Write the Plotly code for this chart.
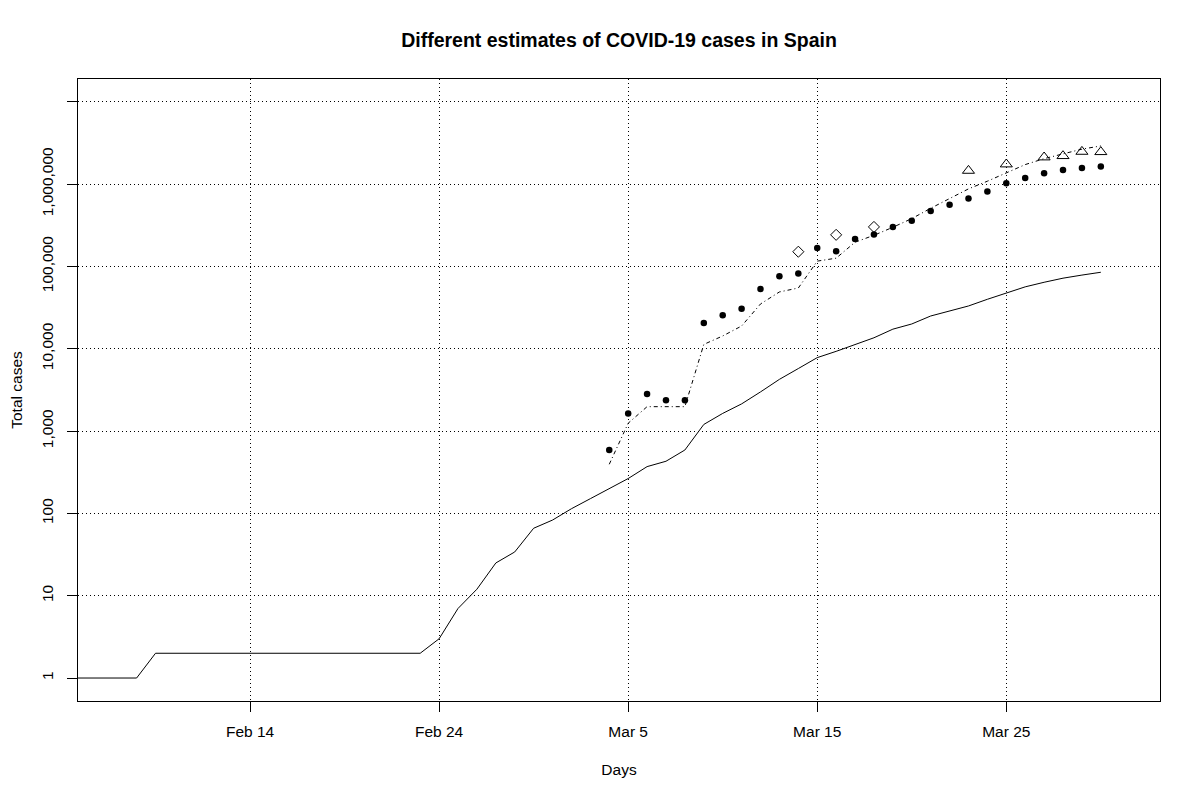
import pandas as pd
import plotly.graph_objects as go

# ---- data ----
confirmed_start = "2020-01-31"
confirmed = [1, 1, 1, 1, 1, 1, 1, 1, 1,                      # Jan 31 - Feb 8
             2, 2, 2, 2, 2, 2, 2, 2, 2, 2, 2, 2, 2, 2, 2,     # Feb 9 - Feb 23
             3, 7, 12, 25, 34, 66,                           # Feb 24 - Feb 29
             83, 114, 151, 198, 265, 370, 430, 589, 1204, 1639,
             2140, 2990, 4250, 5750, 7800, 9300, 11300, 13600, 17300, 20000,
             25000, 28600, 33100, 39900, 48000, 56500, 64200, 72000, 78500, 85000]

est_start = "2020-03-04"
est_points = [590, 1630, 2820, 2370, 2370, 20600, 25500, 30700, 53300, 76000,
              82000, 168000, 153000, 216000, 244000, 302000, 360000, 473000, 560000, 667000,
              812000, 1026000, 1190000, 1356000, 1486000, 1573000, 1633000]
est_line = [395, 1245, 1980, 1980, 1980, 11300, 14300, 18900, 35000, 49000,
            54700, 116000, 126000, 197000, 239000, 299000, 381000, 509000, 674000, 875000,
            1085000, 1380000, 1727000, 2040000, 2350000, 2660000, 2910000]

diamond_dates = ["2020-03-14", "2020-03-16", "2020-03-18"]
diamond_vals = [151000, 242000, 302000]

triangle_dates = ["2020-03-23", "2020-03-25", "2020-03-27", "2020-03-28", "2020-03-29", "2020-03-30"]
triangle_vals = [1458000, 1743000, 2120000, 2200000, 2480000, 2460000]

x_tick_dates = ["2020-02-14", "2020-02-24", "2020-03-05", "2020-03-15", "2020-03-25"]
x_tick_labels = ["Feb 14", "Feb 24", "Mar 5", "Mar 15", "Mar 25"]
y_tick_vals = [1, 10, 100, 1000, 10000, 100000, 1000000, 10000000]
y_tick_labels = ["1", "10", "100", "1,000", "10,000", "100,000", "1,000,000", ""]
y_grid_vals = [10, 100, 1000, 10000, 100000, 1000000, 10000000]

x_range = ["2020-02-04 21:36", "2020-04-02 03:07"]
y_range_log = [-0.279, 7.277]

conf_dates = pd.date_range(confirmed_start, periods=len(confirmed), freq="D")
est_dates = pd.date_range(est_start, periods=len(est_points), freq="D")

FONT = "Liberation Sans, Arial, Helvetica, sans-serif"

fig = go.Figure()
fig.add_trace(go.Scatter(x=conf_dates, y=confirmed, mode="lines",
                         line=dict(color="black", width=1), hoverinfo="skip"))
fig.add_trace(go.Scatter(x=est_dates, y=est_line, mode="lines",
                         line=dict(color="black", width=1, dash="4px,3px,1px,3px"),
                         hoverinfo="skip"))
fig.add_trace(go.Scatter(x=est_dates, y=est_points, mode="markers",
                         marker=dict(symbol="circle", size=6.5, color="black"),
                         hoverinfo="skip"))
fig.add_trace(go.Scatter(x=diamond_dates, y=diamond_vals, mode="markers",
                         marker=dict(symbol="diamond-open", size=8.5, color="black",
                                     line=dict(width=1, color="black")),
                         hoverinfo="skip"))
fig.add_trace(go.Scatter(x=triangle_dates, y=triangle_vals, mode="markers",
                         marker=dict(symbol="triangle-up-open", size=10.5, color="black",
                                     line=dict(width=1, color="black")),
                         hoverinfo="skip"))

fig.update_layout(
    width=1200, height=800,
    margin=dict(l=70, r=48, t=71, b=107, autoexpand=False),
    paper_bgcolor="white", plot_bgcolor="white",
    showlegend=False,
    font=dict(family=FONT, size=15.5, color="black"),
    title=dict(text="<b>Different estimates of COVID-19 cases in Spain</b>",
               x=0.5, xref="paper", xanchor="center",
               y=1 - 32 / 800, yref="container", yanchor="middle",
               font=dict(family=FONT, size=19.5, color="black")),
    xaxis=dict(type="date", range=x_range, automargin=False,
               tickmode="array", tickvals=x_tick_dates, ticktext=x_tick_labels,
               ticks="outside", ticklen=10, tickcolor="black", tickwidth=1,
               ticklabelstandoff=6,
               showgrid=True, gridcolor="black", griddash="1px,3px", gridwidth=1,
               showline=True, linecolor="black", linewidth=1, mirror=True,
               zeroline=False,
               title=dict(text="Days", standoff=25, font=dict(size=15.5))),
    yaxis=dict(type="log", range=y_range_log, automargin=False,
               tickmode="array", tickvals=y_tick_vals, ticktext=y_tick_labels,
               tickangle=-90,
               ticks="outside", ticklen=10, tickcolor="black", tickwidth=1,
               ticklabelstandoff=8,
               showgrid=False,
               minor=dict(tickmode="array", tickvals=y_grid_vals, ticks="",
                          showgrid=True, gridcolor="black", griddash="1px,3px", gridwidth=1),
               showline=True, linecolor="black", linewidth=1, mirror=True,
               zeroline=False,
               title=dict(text="Total cases", standoff=18, font=dict(size=15.5))),
)

fig.write_html("out.html")
